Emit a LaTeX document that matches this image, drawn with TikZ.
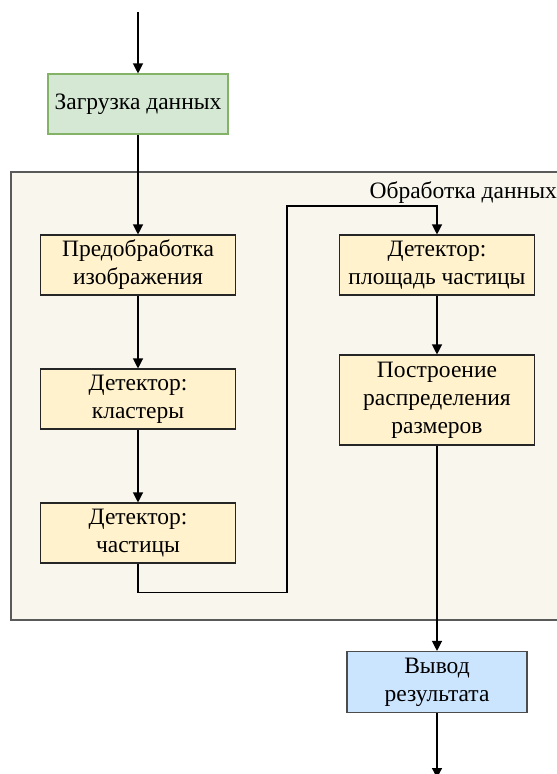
\documentclass[tikz,border=0pt]{standalone}
\usepackage{fontspec}
\setmainfont{Liberation Serif}
\usetikzlibrary{arrows.meta,positioning}

\definecolor{loadfill}{HTML}{D5E8D4}
\definecolor{loadline}{HTML}{82B366}
\definecolor{stepfill}{HTML}{FFF2CC}
\definecolor{outfill}{HTML}{CCE5FF}
\definecolor{groupfill}{HTML}{F9F7ED}
\definecolor{groupline}{HTML}{5A5A5A}

\tikzset{
    stage/.style={draw=black!85, line width=1.1pt, fill=stepfill, align=center,
        inner sep=0pt, minimum width=195pt, minimum height=60pt,
        font=\fontsize{23.5}{28}\selectfont},
    link/.style={line width=1.2pt, -{Triangle[length=10pt,width=10pt]}},
}

\begin{document}
\begin{tikzpicture}[x=1pt, y=-1pt]
    \useasboundingbox (0,0) rectangle (557,774);

    % processing group
    \draw[groupline, fill=groupfill, line width=1.5pt] (11,172) rectangle (580,620);
    \node[anchor=north east, inner sep=0pt, font=\fontsize{23.5}{28}\selectfont] (grouptitle) at (557,181) {Обработка данных};

    \node[stage, fill=loadfill, draw=loadline, minimum width=180pt] (load) at (138,104) {Загрузка данных};
    \node[stage] (prep) at (138,265) {Предобработка\\изображения};
    \node[stage] (clust) at (138,399) {Детектор:\\кластеры};
    \node[stage] (part) at (138,533) {Детектор:\\частицы};
    \node[stage] (area) at (437,265) {Детектор:\\площадь частицы};
    \node[stage, minimum height=90pt] (dist) at (437,400) {Построение\\распределения\\размеров};
    \node[stage, fill=outfill, draw=black!70, minimum width=180pt, minimum height=61pt] (out) at (437,682) {Вывод\\результата};

    \coordinate (in) at (138,12);
    \coordinate (end) at (437,778);

    \draw[link] (in) -- (load);
    \draw[link] (load) -- (prep);
    \draw[link] (prep) -- (clust);
    \draw[link] (clust) -- (part);
    \draw[link] (part.south) -- ++(0,29) -| (287,206) -| (area.north);
    \draw[link] (area) -- (dist);
    \draw[link] (dist) -- (out);
    \draw[link] (out) -- (end);
\end{tikzpicture}
\end{document}
